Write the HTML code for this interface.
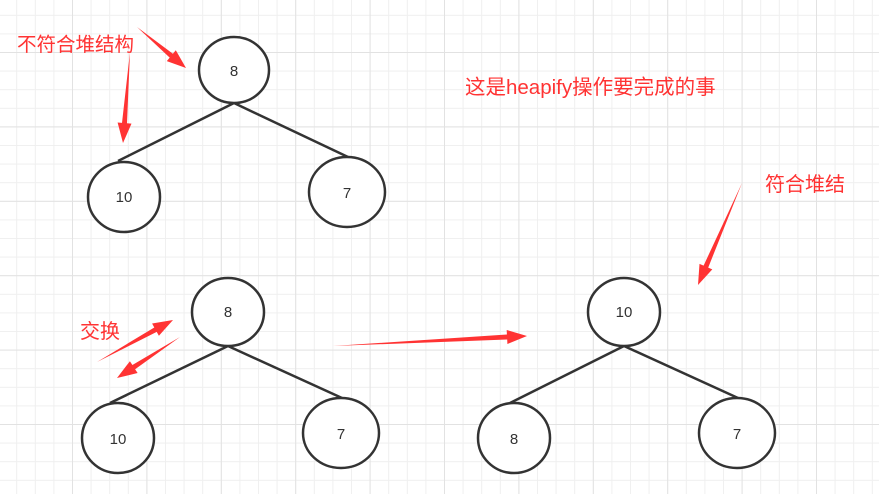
<!DOCTYPE html>
<html><head><meta charset="utf-8"><style>
body{margin:0;width:879px;height:494px;overflow:hidden;background:#fff;}
svg{display:block}
</style></head><body>
<svg id="s" width="879" height="494" xmlns="http://www.w3.org/2000/svg">
<defs>
<pattern id="g" width="18.6" height="18.6" patternUnits="userSpaceOnUse" x="-2.4" y="-3.8">
<path d="M0 0.5H18.6M0.5 0V18.6" stroke="#efefef" stroke-width="1" fill="none"/>
</pattern>
<pattern id="G" width="74.4" height="74.4" patternUnits="userSpaceOnUse" x="-2.4" y="-22.4">
<path d="M0 0.5H74.4M0.5 0V74.4" stroke="#e2e2e2" stroke-width="1" fill="none"/>
</pattern>
</defs>
<rect width="879" height="494" fill="url(#g)"/>
<rect width="879" height="494" fill="url(#G)"/>
<g stroke="#333" stroke-width="2.5" fill="#fff">
<line x1="234" y1="103" x2="118" y2="161"/><line x1="234" y1="103" x2="348" y2="157"/>
<line x1="228" y1="346" x2="110" y2="403"/><line x1="228" y1="346" x2="342" y2="398"/>
<line x1="624" y1="346" x2="510" y2="403"/><line x1="624" y1="346" x2="738" y2="398"/>
<ellipse cx="234" cy="70" rx="35" ry="33"/>
<ellipse cx="124" cy="197" rx="36" ry="35"/>
<ellipse cx="347" cy="192" rx="38" ry="35"/>
<ellipse cx="228" cy="312" rx="36" ry="34"/>
<ellipse cx="118" cy="438" rx="36" ry="35"/>
<ellipse cx="341" cy="433" rx="38" ry="35"/>
<ellipse cx="624" cy="312" rx="36" ry="34"/>
<ellipse cx="514" cy="438" rx="36" ry="35"/>
<ellipse cx="737" cy="433" rx="38" ry="35"/>
</g>
<g font-family="Liberation Sans, sans-serif" font-size="15" fill="#333" text-anchor="middle">
<text x="234" y="76">8</text><text x="124" y="202">10</text><text x="347" y="198">7</text>
<text x="228" y="317">8</text><text x="118" y="444">10</text><text x="341" y="439">7</text>
<text x="624" y="317">10</text><text x="514" y="444">8</text><text x="737" y="439">7</text>
</g>
<g fill="#f33" font-family="Liberation Sans, 'Noto Sans CJK SC', sans-serif">
<text x="17" y="51" font-size="19.5">不符合堆结构</text>
<text x="465" y="94" font-size="20.5">这是heapify操作要完成的事</text>
<text x="765" y="191" font-size="20">符合堆结</text>
<text x="80" y="338" font-size="20">交换</text>
</g>
<g id="arr" fill="#f33"></g>
</svg>
<script>
var A=[[137,27,186,68],[130,52,123,143],[97,362,173,320],[180,337,117,378],[333,346,527,336],[742,183,698,285]];
var g=document.getElementById('arr'),h='';
A.forEach(function(a){var dx=a[2]-a[0],dy=a[3]-a[1],L=Math.hypot(dx,dy),ux=dx/L,uy=dy/L,nx=-uy,ny=ux,hl=Math.min(20,L*0.3),bx=a[2]-ux*hl,by=a[3]-uy*hl,w=2.5,hw=7;
var p=[[a[0],a[1]],[bx+nx*w,by+ny*w],[bx+nx*hw,by+ny*hw],[a[2],a[3]],[bx-nx*hw,by-ny*hw],[bx-nx*w,by-ny*w]];
h+='<polygon points="'+p.map(function(q){return q[0].toFixed(1)+','+q[1].toFixed(1)}).join(' ')+'"/>';});
g.innerHTML=h;
</script>
</body></html>
